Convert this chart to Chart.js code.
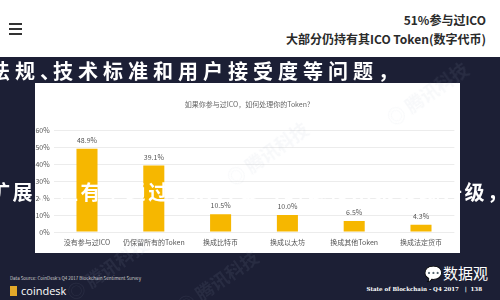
<!DOCTYPE html>
<html>
<head>
<meta charset="utf-8">
<script src="https://cdn.jsdelivr.net/npm/chart.js@4.4.1/dist/chart.umd.min.js"></script>
<style>
    html, body { margin: 0; padding: 0; }
    body { width: 500px; height: 300px; overflow: hidden; position: relative; background: #1c1f35; font-family: "Noto Sans CJK SC", "Noto Sans", sans-serif; }
    .topbar { position: absolute; left: 0; top: 0; width: 500px; height: 57px; background: #fff; }
    .menu { position: absolute; left: 9px; top: 23px; width: 13px; }
    .menu i { display: block; height: 2px; background: #333; margin-bottom: 3px; }
    .headline { position: absolute; right: 14px; top: 10px; text-align: right; color: #2a2a2a; font-weight: bold; font-size: 12px; line-height: 19px; }
    .card { position: absolute; left: 35px; top: 83px; width: 425px; height: 170px; background: #fff; }
    .card canvas { position: absolute; left: 0; top: 0; }
    .ctitle { position: absolute; left: 0; top: 16px; width: 425px; text-align: center; font-size: 7px; color: #666; }
    .brush { position: absolute; color: #fff; font-weight: bold; font-size: 20px; white-space: nowrap; pointer-events: none; z-index: 5; }
    .wm { position: absolute; color: rgba(170,175,195,0.09); font-size: 18px; font-weight: bold; transform: rotate(-35deg); white-space: nowrap; z-index: 4; }
    .source { position: absolute; left: 10px; top: 275px; font-size: 4.5px; color: #ccc; }
    .logo { position: absolute; left: 10px; top: 283px; color: #fff; font-size: 11px; font-family: "Open Sans", sans-serif; }
    .logo b { display: inline-block; width: 7px; height: 10px; background: #e2a82a; margin-right: 4px; vertical-align: -1px; }
    .wechat { position: absolute; left: 424px; top: 262px; color: #fff; font-size: 15px; }
    .footer { position: absolute; right: 18px; top: 286px; color: #fff; font-size: 5.5px; font-weight: bold; font-family: "DejaVu Serif", serif; }
</style>
</head>
<body>
<div class="topbar">
    <div class="menu"><i></i><i></i><i></i></div>
    <div class="headline">51%参与过ICO<br>大部分仍持有其ICO Token(数字代币)</div>
</div>

<div class="brush" style="left:-10px; top:56px; letter-spacing:5px;">法规<span style="margin-right:-12px">、</span>技术标准和用户接受度等问题，</div>

<div class="card">
    <canvas id="barChart" width="425" height="170"></canvas>
    <div class="ctitle">如果你参与过ICO，如何处理你的Token?</div>
</div>

<div class="brush" style="left:-10px; top:177px; letter-spacing:2.6px;">扩展，但有望通过分层方案与跨链技术来实现升级，</div>

<div class="wm" style="left:60px; top:255px;">◎ 腾讯科技</div>
<div class="wm" style="left:170px; top:268px;">◎ 腾讯科技</div>
<div class="wm" style="left:380px; top:80px;">◎ 腾讯科技</div>
<div class="wm" style="left:220px; top:140px;">◎ 腾讯科技</div>

<div class="source">Data Source: CoinDesk's Q4 2017 Blockchain Sentiment Survey</div>
<div class="logo"><b></b>coindesk</div>
<div class="wechat">💬数据观</div>
<div class="footer">State of Blockchain - Q4 2017 &nbsp;&nbsp;| &nbsp;138</div>

<script>
    // Data
    const categories = ['没有参与过ICO', '仍保留所有的Token', '换成比特币', '换成以太坊', '换成其他Token', '换成法定货币'];
    const shares = [48.9, 39.1, 10.5, 10.0, 6.5, 4.3];
    const yTicks = [0, 10, 20, 30, 40, 50, 60];

    const FONT = '"Noto Sans CJK SC", "Noto Sans", sans-serif';

    // draws the value above every bar
    const valueLabels = {
        id: 'valueLabels',
        afterDatasetsDraw(chart) {
            const ctx = chart.ctx;
            const meta = chart.getDatasetMeta(0);
            ctx.save();
            ctx.font = '7px ' + FONT;
            ctx.fillStyle = '#555';
            ctx.textAlign = 'center';
            ctx.textBaseline = 'bottom';
            meta.data.forEach((bar, i) => {
                ctx.fillText(shares[i].toFixed(1) + '%', bar.x, bar.y - 5);
            });
            ctx.restore();
        }
    };

    new Chart(document.getElementById('barChart'), {
        type: 'bar',
        data: {
            labels: categories,
            datasets: [{
                data: shares,
                backgroundColor: '#f6b700',
                borderWidth: 0,
                categoryPercentage: 1,
                barPercentage: 0.315
            }]
        },
        options: {
            responsive: false,
            animation: false,
            layout: { padding: { top: 47, right: 5.6, bottom: 2, left: 0 } },
            plugins: {
                legend: { display: false },
                tooltip: { enabled: false }
            },
            scales: {
                x: {
                    grid: { display: false, drawTicks: false },
                    border: { display: false },
                    ticks: { font: { size: 7, family: FONT }, color: '#555', padding: 6, maxRotation: 0, autoSkip: false },
                    afterFit(scale) { scale.height = 19; }
                },
                y: {
                    min: yTicks[0],
                    max: yTicks[yTicks.length - 1],
                    afterBuildTicks(scale) { scale.ticks = yTicks.map(v => ({ value: v })); },
                    ticks: { font: { size: 7, family: FONT }, color: '#555', padding: 4, callback: v => v + '%' },
                    grid: { color: '#ececec', drawTicks: false },
                    border: { display: false },
                    afterFit(scale) { scale.width = 18.6; }
                }
            }
        },
        plugins: [valueLabels]
    });
</script>
</body>
</html>
